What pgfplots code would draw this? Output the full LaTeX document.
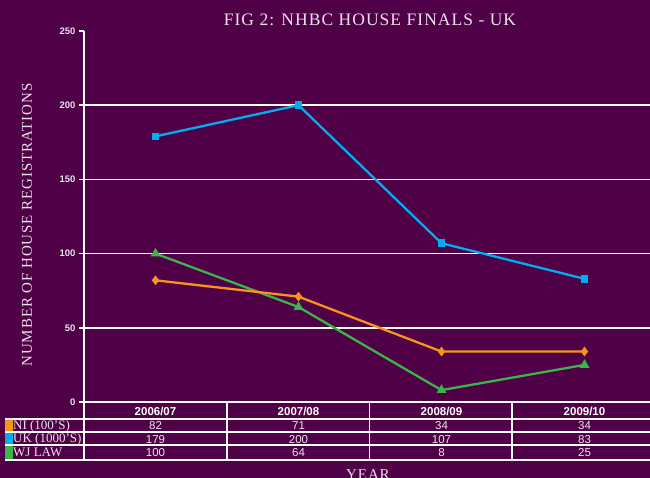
\documentclass[border=0pt]{standalone}
\usepackage{pgfplots}
\pgfplotsset{compat=1.18}
\usepackage{fontspec}
\setmainfont{Liberation Serif}
\setsansfont{Liberation Sans}
\newfontfamily\capfont[LetterSpace=6]{Liberation Serif}
\definecolor{bg}{RGB}{80,0,70}
\definecolor{cNI}{RGB}{247,148,29}
\definecolor{cUK}{RGB}{0,174,239}
\definecolor{cWJ}{RGB}{57,181,74}
\definecolor{txt}{RGB}{236,226,236}

\begin{document}
\begin{tikzpicture}[x=1pt,y=1pt]
\useasboundingbox (0,0) rectangle (650,477);
\fill[bg] (-5,-25) rectangle (670,482);
\begin{axis}[
  at={(84pt,75pt)}, anchor=south west,
  scale only axis, width=572pt, height=371pt,
  xmin=-0.5, xmax=3.5, ymin=0, ymax=250,
  axis x line=none, axis y line*=left,
  y axis line style={-, white, line width=1.6pt},
  xtick=\empty,
  ytick={0,50,100,150,200},
  extra y ticks={250},
  extra y tick style={grid=none},
  ymajorgrids,
  major grid style={white, line width=1.7pt},
  tick align=outside,
  major tick length=5pt,
  y tick style={white, line width=1.4pt},
  yticklabel style={font=\sffamily\bfseries\fontsize{9.5}{10}\selectfont, text=txt, /pgf/number format/assume math mode=true},
  title={FIG 2: NHBC HOUSE FINALS - UK},
  every axis title/.style={at={(axis description cs:0.5,1)}, anchor=base, yshift=5pt, font=\capfont\fontsize{17.5}{20}\selectfont, text=txt},
  ylabel={NUMBER OF HOUSE REGISTRATIONS},
  every axis y label/.style={at={(axis description cs:0,0.477)}, xshift=-57pt, rotate=90, anchor=center, font=\capfont\fontsize{15}{18}\selectfont, text=txt},
  clip=false,
]
\addplot[cWJ, line width=2.3pt, mark=triangle*, mark size=3.4pt, mark options={solid}] coordinates {(0,100)(1,64)(2,8)(3,25)};
\addplot[cNI, line width=2.3pt, mark=diamond*, mark size=3pt, mark options={solid}] coordinates {(0,82)(1,71)(2,34)(3,34)};
\addplot[cUK, line width=2.3pt, mark=square*, mark size=2.7pt, mark options={solid}] coordinates {(0,179)(1,200)(2,107)(3,83)};
\end{axis}
% x axis title, partly cut by the lower edge as in the reference
\node[anchor=base, inner sep=0pt, font=\capfont\fontsize{15}{18}\selectfont, text=txt] at (368,-2.5) {YEAR};
% data table below the plot
\fill[cNI] (5,58) rectangle (12.5,44.7);
\fill[cUK] (5,44.7) rectangle (12.5,32);
\fill[cWJ] (5,32) rectangle (12.5,17);
\begin{scope}[every node/.style={anchor=base, inner sep=0pt, text=txt}]
\foreach \x/\h in {155.5/2006\slash 07,298.5/2007\slash 08,441.5/2008\slash 09,584.5/2009\slash 10}
  \node[text=white, font=\sffamily\bfseries\fontsize{11.5}{13}\selectfont] at (\x,62) {\h};
\foreach \x/\a/\b/\c in {155.5/82/179/100,298.5/71/200/64,441.5/34/107/8,584.5/34/83/25}{
  \node[font=\sffamily\fontsize{11.5}{13}\selectfont] at (\x,47.5) {\a};
  \node[font=\sffamily\fontsize{11.5}{13}\selectfont] at (\x,34) {\b};
  \node[font=\sffamily\fontsize{11.5}{13}\selectfont] at (\x,20.5) {\c};
}
\node[anchor=base west, font=\fontsize{13}{14}\selectfont] at (13,47.5) {NI (100'S)};
\node[anchor=base west, font=\fontsize{13}{14}\selectfont] at (13,34.5) {UK (1000'S)};
\node[anchor=base west, font=\fontsize{13}{14}\selectfont] at (13,21) {WJ LAW};
\end{scope}
\fill[bg] (84.8,30) rectangle (95,45);
\begin{scope}[white, line width=1.7pt]
\draw (83,75) -- (660,75);
\draw (5,58) -- (660,58);
\draw (5,44.7) -- (660,44.7);
\draw (5,32) -- (660,32);
\draw (5,17) -- (660,17);
\foreach \x in {84,227,369.5,512} \draw (\x,75.8) -- (\x,16.2);
\end{scope}
\end{tikzpicture}
\end{document}
